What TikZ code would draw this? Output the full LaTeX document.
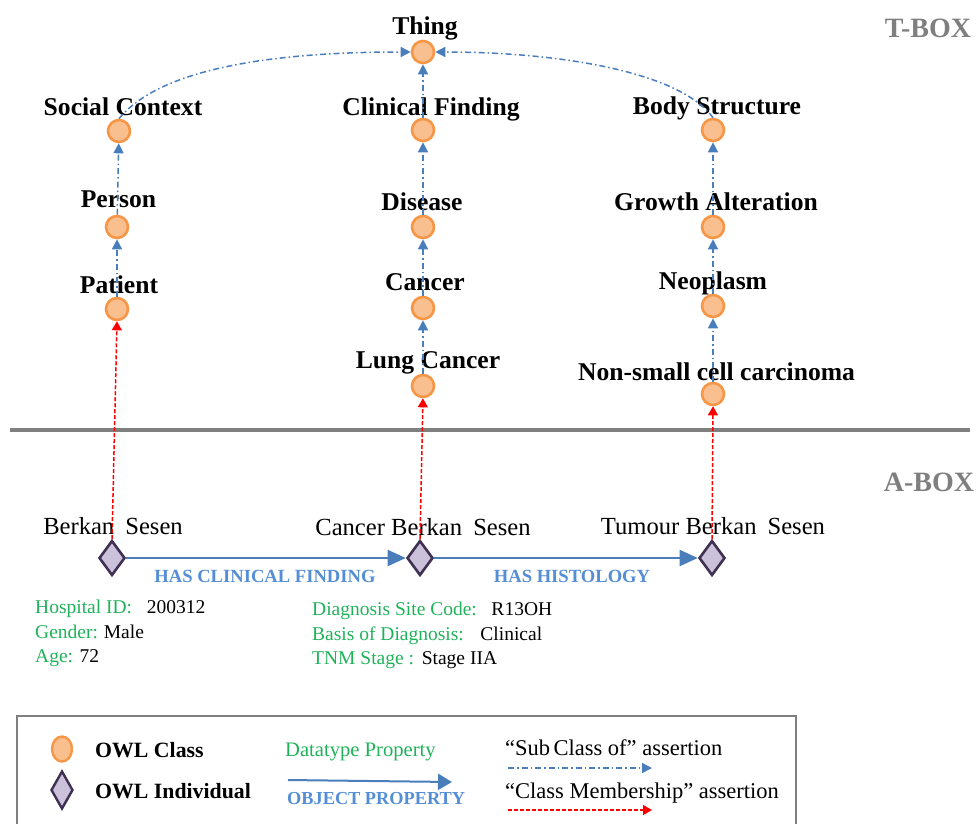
\documentclass[tikz,border=0pt]{standalone}
\usepackage{fontspec}
\setmainfont{Liberation Serif}
\usetikzlibrary{shapes.geometric,arrows.meta}

\definecolor{classfill}{HTML}{F9BF8F}
\definecolor{classdraw}{HTML}{F79646}
\definecolor{indfill}{HTML}{CCC1DA}
\definecolor{inddraw}{HTML}{403152}
\definecolor{objblue}{HTML}{4A7EBB}
\definecolor{objlabel}{HTML}{558ED5}
\definecolor{dataprop}{RGB}{32,178,90}
\definecolor{boxgray}{HTML}{7F7F7F}

\newcommand{\fs}[1]{\fontsize{#1}{#1}\selectfont}

\tikzset{
  owlclass/.style={circle, fill=classfill, draw=classdraw, line width=2.6pt,
    minimum size=22pt, inner sep=0pt},
  owlind/.style={diamond, fill=indfill, draw=inddraw, line width=2.6pt,
    minimum width=26pt, minimum height=35pt, inner sep=0pt},
  classlabel/.style={anchor=base, font=\fs{25.6}\bfseries, inner sep=0pt},
  indlabel/.style={anchor=base, font=\fs{24.6}, inner sep=0pt},
  proplabel/.style={anchor=base, font=\fs{18.6}\bfseries, text=objlabel, inner sep=0pt},
  datalabel/.style={anchor=base west, font=\fs{19.5}, inner sep=0pt},
  boxlabel/.style={anchor=base, font=\fs{28}\bfseries, text=boxgray, inner sep=0pt},
  subclass/.style={objblue, line width=1.5pt,
    dash pattern=on 6pt off 3pt on 1.5pt off 3pt,
    -{Triangle[length=10pt,width=10pt]}},
  membership/.style={red, line width=1.5pt, dash pattern=on 4pt off 2pt,
    -{Triangle[length=9pt,width=10pt]}},
  objprop/.style={objblue, line width=2pt, -{Triangle[length=18pt,width=16pt]}},
  legendtext/.style={anchor=base west, inner sep=0pt},
}

\begin{document}
\begin{tikzpicture}[x=1pt,y=-1pt]
\useasboundingbox (0,0) rectangle (979,823);

% ---------- T-Box classes ----------
\node[owlclass] (thing) at (423,52) {};
\node[owlclass] (social) at (119,131) {};
\node[owlclass] (person) at (117,227) {};
\node[owlclass] (patient) at (117,309) {};
\node[owlclass] (clinical) at (423,130) {};
\node[owlclass] (disease) at (423,227) {};
\node[owlclass] (cancer) at (423,308) {};
\node[owlclass] (lung) at (423,386) {};
\node[owlclass] (body) at (713,130) {};
\node[owlclass] (growth) at (713,227) {};
\node[owlclass] (neoplasm) at (713,306) {};
\node[owlclass] (nsclc) at (713,394) {};

\node[classlabel] (lthing) at (425,34) {Thing};
\node[classlabel] (lsocial) at (123,115) {Social Context};
\node[classlabel] (lperson) at (118.5,207) {Person};
\node[classlabel] (lpatient) at (119,293) {Patient};
\node[classlabel] (lclinical) at (431,115) {Clinical Finding};
\node[classlabel] (ldisease) at (422,210) {Disease};
\node[classlabel] (lcancer) at (425,290) {Cancer};
\node[classlabel] (llung) at (428,368) {Lung Cancer};
\node[classlabel] (lbody) at (717,114) {Body Structure};
\node[classlabel] (lgrowth) at (716,210) {Growth Alteration};
\node[classlabel] (lneoplasm) at (713,289) {Neoplasm};
\node[classlabel] (lnsclc) at (716.5,380) {Non-small cell carcinoma};

% sub class of assertions
\draw[subclass] (patient) -- (person);
\draw[subclass] (person) -- (social);
\draw[subclass] (lung) -- (cancer);
\draw[subclass] (cancer) -- (disease);
\draw[subclass] (disease) -- (clinical);
\draw[subclass] (clinical) -- (thing);
\draw[subclass] (nsclc) -- (neoplasm);
\draw[subclass] (neoplasm) -- (growth);
\draw[subclass] (growth) -- (body);
\draw[subclass] (social.north) .. controls (165,62) and (300,52) .. (thing.west);
\draw[subclass] (body.north) .. controls (680,72) and (560,52) .. (thing.east);

% ---------- separator and box titles ----------
\coordinate (sepL) at (10,430);
\coordinate (sepR) at (970,430);
\draw[boxgray, line width=3.5pt] (sepL) -- (sepR);
\node[boxlabel] (tbox) at (928,37) {T-BOX};
\node[boxlabel] (abox) at (929,491) {A-BOX};

% ---------- A-Box individuals ----------
\node[owlind] (berkan) at (112,558) {};
\node[owlind] (cberkan) at (420,558) {};
\node[owlind] (tberkan) at (712,558) {};

\node[indlabel] (lberkan) at (113,534) {Berkan\hspace{0.45em}Sesen};
\node[indlabel] (lcberkan) at (423,535) {Cancer Berkan\hspace{0.45em}Sesen};
\node[indlabel] (ltberkan) at (713,534) {Tumour Berkan\hspace{0.45em}Sesen};

\draw[objprop] (berkan) -- (cberkan);
\draw[objprop] (cberkan) -- (tberkan);
\node[proplabel] (hcf) at (265,582) {HAS CLINICAL FINDING};
\node[proplabel] (hh) at (572,582) {HAS HISTOLOGY};

% class membership assertions
\draw[membership] (berkan.north) -- (patient.south);
\draw[membership] (cberkan.north) -- (lung.south);
\draw[membership] (tberkan.north) -- (nsclc.south);

% datatype properties
\node[datalabel] (d1) at (35,613) {\textcolor{dataprop}{Hospital ID:}\hspace{0.75em}200312};
\node[datalabel] (d2) at (35,638) {\textcolor{dataprop}{Gender:}\hspace{0.3em}Male};
\node[datalabel] (d3) at (35,662) {\textcolor{dataprop}{Age:} 72};
\node[datalabel] (d4) at (312,615) {\textcolor{dataprop}{Diagnosis Site Code:}\hspace{0.75em}R13OH};
\node[datalabel] (d5) at (312,640) {\textcolor{dataprop}{Basis of Diagnosis:}\hspace{0.85em}Clinical};
\node[datalabel] (d6) at (312,664) {\textcolor{dataprop}{TNM Stage :}\hspace{0.4em}Stage IIA};

% ---------- legend ----------
\draw[boxgray, line width=1.2pt] (17,830) -- (17,716) -- (796,716) -- (796,830);
\node[ellipse, fill=classfill, draw=classdraw, line width=2.4pt,
  minimum width=20pt, minimum height=25pt, inner sep=0pt] (kclass) at (62,749) {};
\node[diamond, fill=indfill, draw=inddraw, line width=2.4pt,
  minimum width=22pt, minimum height=38pt, inner sep=0pt] (kind) at (62,790) {};
\node[legendtext, font=\fs{21.8}\bfseries] (kclasst) at (95,757) {OWL Class};
\node[legendtext, font=\fs{21.8}\bfseries] (kindt) at (95,798) {OWL Individual};
\node[legendtext, font=\fs{20.6}, text=dataprop] (kdata) at (285,756) {Datatype Property};
\coordinate (kobjA) at (288,780);
\coordinate (kobjB) at (452,782);
\draw[objprop, -{Triangle[length=14pt,width=16pt]}] (kobjA) -- (kobjB);
\node[legendtext, font=\fs{18.3}\bfseries, text=objlabel] (kobjt) at (287,804) {OBJECT PROPERTY};
\node[legendtext, font=\fs{22.5}] (ksubt) at (505,755) {``Sub\hspace{0.15em}Class of'' assertion};
\node[legendtext, font=\fs{22.5}] (kmemt) at (505,798) {``Class Membership'' assertion};
\coordinate (ksubA) at (508,768);
\coordinate (ksubB) at (652,768);
\draw[subclass] (ksubA) -- (ksubB);
\coordinate (kmemA) at (508,810);
\coordinate (kmemB) at (652,810);
\draw[membership] (kmemA) -- (kmemB);
\end{tikzpicture}
\end{document}
